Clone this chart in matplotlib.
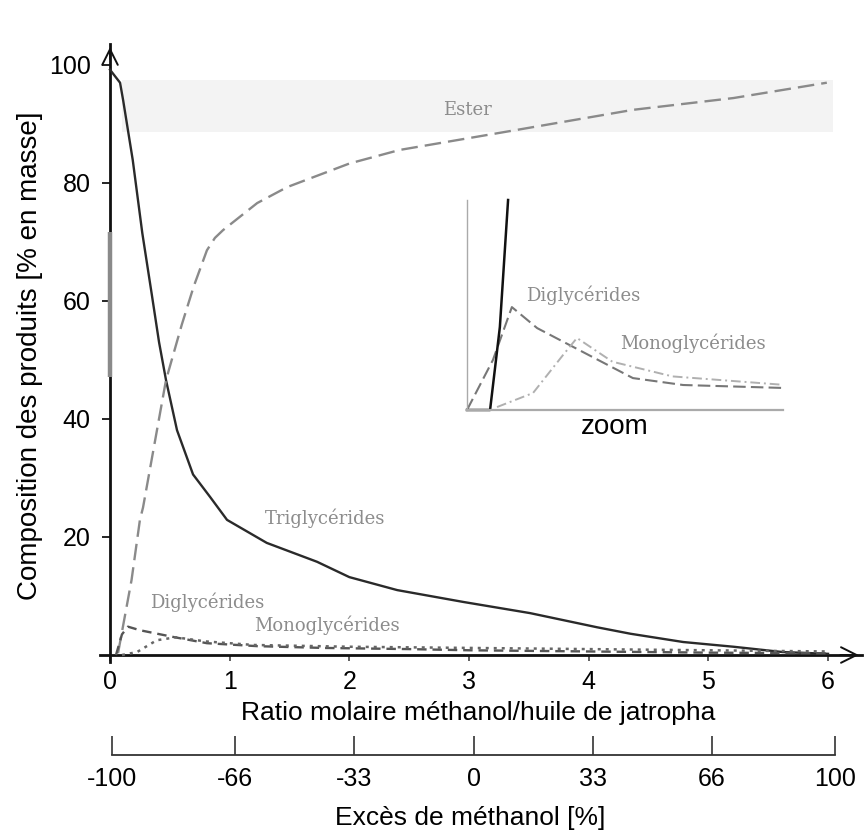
import matplotlib
matplotlib.use("Agg")
import matplotlib.pyplot as plt

# ---------------- data ----------------
tg_x = [0, 0.084, 0.11, 0.19, 0.27, 0.35, 0.41, 0.468, 0.56, 0.694, 0.836, 0.978, 1.31, 1.73, 2.0, 2.40, 2.95, 3.51, 4.07, 4.35, 4.79, 5.21, 5.62, 6.0]
tg_y = [99.2, 97, 94, 83.9, 71.5, 61, 53, 46.6, 38.1, 30.6, 26.8, 22.9, 19.0, 15.8, 13.2, 11.0, 9.0, 7.1, 4.7, 3.6, 2.2, 1.4, 0.5, 0.2]

ester_x = [0.067, 0.18, 0.25, 0.276, 0.468, 0.6, 0.7, 0.81, 0.877, 0.944, 1.23, 1.48, 2.0, 2.42, 3.40, 4.37, 5.21, 5.99]
ester_y = [0.3, 12.7, 22.9, 25.0, 46.6, 56.0, 62.5, 68.6, 70.7, 72.0, 76.6, 79.3, 83.3, 85.6, 89.0, 92.4, 94.4, 97.0]

dg_x = [0.05, 0.10, 0.15, 0.25, 0.53, 0.81, 1.23, 1.78, 2.5, 3.0, 4.0, 5.0, 6.0]
dg_y = [0.0, 3.5, 4.8, 4.2, 3.05, 2.0, 1.5, 1.2, 1.0, 0.8, 0.6, 0.4, 0.3]

mg_x = [0.10, 0.226, 0.39, 0.55, 0.8, 1.2, 2.0, 3.0, 4.0, 5.0, 6.0]
mg_y = [0.0, 0.5, 2.5, 3.0, 2.3, 1.7, 1.4, 1.2, 1.0, 0.8, 0.6]

# inset ("zoom") curves, inset units 0..10
in_tg_x = [0, 0.73, 1.04, 1.30]
in_tg_y = [0, 0, 3.95, 10]
in_dg_x = [0, 0.82, 1.42, 2.22, 3.67, 5.25, 6.84, 10]
in_dg_y = [0, 2.38, 4.9, 3.9, 2.76, 1.52, 1.19, 1.05]
in_mg_x = [0.95, 2.09, 3.04, 3.48, 4.6, 6.5, 10]
in_mg_y = [0.14, 0.81, 2.62, 3.43, 2.3, 1.6, 1.2]

x_ticks = [0, 1, 2, 3, 4, 5, 6]
y_ticks = [20, 40, 60, 80, 100]
excess_ticks = [-100, -66, -33, 0, 33, 66, 100]

# ---------------- figure ----------------
plt.rcParams['font.family'] = ['Liberation Sans', 'DejaVu Sans']
W, H = 866, 833
fig = plt.figure(figsize=(W / 100, H / 100), dpi=100)

x0px, pxu = 110, 119.67      # data x=0 pixel, px per unit
y0px, pyu = 655, 5.9         # data y=0 pixel, px per unit
xlo, xhi = -0.08, 6.28
ylo, yhi = -1.2, 103.5
left = x0px + xlo * pxu
right = x0px + xhi * pxu
bottom = y0px - ylo * pyu
top = y0px - yhi * pyu
ax = fig.add_axes([left / W, 1 - bottom / H, (right - left) / W, (bottom - top) / H])
ax.set_xlim(xlo, xhi)
ax.set_ylim(ylo, yhi)
ax.patch.set_alpha(0)

for s in ['top', 'right']:
    ax.spines[s].set_visible(False)
ax.spines['left'].set_position(('data', 0))
ax.spines['bottom'].set_position(('data', 0))
ax.spines['left'].set_linewidth(2.0)
ax.spines['bottom'].set_linewidth(2.0)
ax.spines['left'].set_color('#111111')
ax.spines['bottom'].set_color('#111111')

ax.set_xticks(x_ticks)
ax.set_yticks(y_ticks)
ax.tick_params(axis='y', direction='out', length=6, width=1.2, pad=8, labelsize=18)
ax.tick_params(axis='x', direction='out', length=4, width=1.2, pad=7, labelsize=18, color='#444444')

# arrows at axis ends
ax.annotate('', xy=(0, yhi), xytext=(0, yhi - 3), annotation_clip=False,
            arrowprops=dict(arrowstyle='->', lw=1.4, color='#111111', mutation_scale=28))
ax.annotate('', xy=(xhi, 0), xytext=(xhi - 0.2, 0), annotation_clip=False,
            arrowprops=dict(arrowstyle='->', lw=1.4, color='#111111', mutation_scale=28))

# faint grey band behind the ester label
ax.axhspan(88.6, 97.5, xmin=(0.1 - xlo) / (xhi - xlo), xmax=(6.04 - xlo) / (xhi - xlo),
           color='#f3f3f3', zorder=0, lw=0)
# grey segment on the left axis
ax.plot([0, 0], [47.1, 71.7], color='#8a8a8a', lw=3.2, solid_capstyle='butt', zorder=3)

# curves
ax.plot(tg_x, tg_y, color='#2a2a2a', lw=1.7, zorder=4, solid_joinstyle='round')
ax.plot(ester_x, ester_y, color='#8a8a8a', lw=1.7, dashes=(7, 3), zorder=4, dash_joinstyle='round')
ax.plot(dg_x, dg_y, color='#555555', lw=1.7, dashes=(4, 2.5), zorder=4)
ax.plot(mg_x, mg_y, color='#666666', lw=1.8, dashes=(1.2, 2), zorder=4)

# curve labels
lab = dict(family=['DejaVu Serif'], fontsize=13, color='#8c8c8c', ha='center', va='center')
ax.text(2.99, 92.4, 'Ester', **lab)
ax.text(1.80, 23.2, 'Triglycérides', **lab)
ax.text(0.81, 9.0, 'Diglycérides', **lab)
ax.text(1.81, 5.1, 'Monoglycérides', **lab)

# axis titles
fig.text(30 / W, 1 - 356 / H, 'Composition des produits [% en masse]', rotation=90,
         ha='center', va='center', fontsize=20)
fig.text(478 / W, 1 - 713 / H, 'Ratio molaire méthanol/huile de jatropha',
         ha='center', va='center', fontsize=19)
fig.text(470 / W, 1 - 818 / H, 'Excès de méthanol [%]',
         ha='center', va='center', fontsize=19)

# secondary (excess methanol) axis
ax2 = fig.add_axes([112 / W, 1 - 755 / H, (835 - 112) / W, 0.0001])
ax2.set_xlim(-100, 100)
ax2.set_ylim(0, 1)
for s in ['top', 'right', 'left']:
    ax2.spines[s].set_visible(False)
ax2.spines['bottom'].set_color('#333333')
ax2.spines['bottom'].set_linewidth(1.3)
ax2.set_yticks([])
ax2.set_xticks(excess_ticks)
ax2.set_xticklabels([str(v) for v in excess_ticks])
ax2.tick_params(axis='x', direction='in', length=14, width=1.2, pad=9, labelsize=18, color='#333333')
ax2.patch.set_alpha(0)

# inset zoom
ins = fig.add_axes([467 / W, 1 - 410 / H, 316 / W, 210 / H])
ins.set_xlim(0, 10)
ins.set_ylim(0, 10)
ins.patch.set_alpha(0)
for s in ['top', 'right']:
    ins.spines[s].set_visible(False)
ins.spines['left'].set_color('#aaaaaa')
ins.spines['left'].set_linewidth(1.0)
ins.spines['bottom'].set_color('#aaaaaa')
ins.spines['bottom'].set_linewidth(1.6)
ins.set_xticks([])
ins.set_yticks([])
ins.plot(in_dg_x, in_dg_y, color='#777777', lw=1.5, dashes=(6, 2.5), clip_on=False)
ins.plot(in_mg_x, in_mg_y, color='#b0b0b0', lw=1.4, dashes=(5, 2, 1, 2), clip_on=False)
ins.plot(in_tg_x, in_tg_y, color='#111111', lw=1.8, clip_on=False)
ins_lab = dict(family=['DejaVu Serif'], fontsize=13, color='#8c8c8c', ha='center', va='center')
ins.text(3.67, 5.48, 'Diglycérides', **ins_lab)
ins.text(7.15, 3.19, 'Monoglycérides', **ins_lab)
fig.text(615 / W, 1 - 427 / H, 'zoom', ha='center', va='center', fontsize=20)

fig.savefig('out.png', dpi=100)
